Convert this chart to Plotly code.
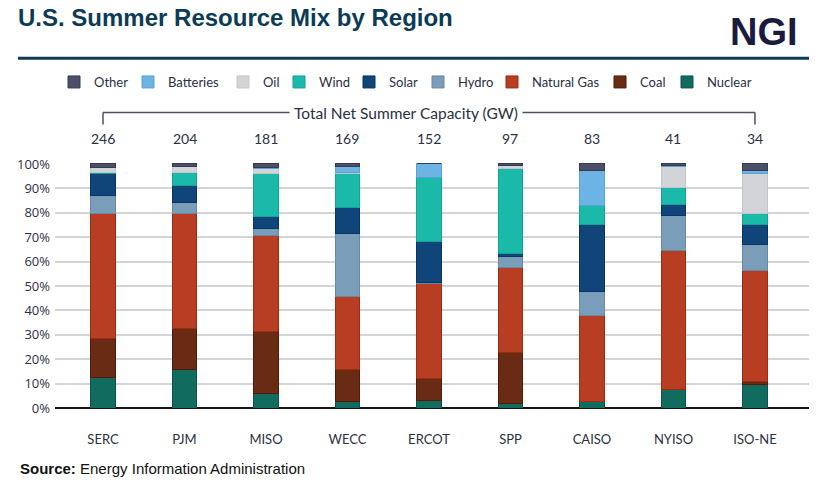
import plotly.graph_objects as go

regions = ["SERC", "PJM", "MISO", "WECC", "ERCOT", "SPP", "CAISO", "NYISO", "ISO-NE"]
capacity_gw = [246, 204, 181, 169, 152, 97, 83, 41, 34]

nuclear = [12.6, 15.9, 6.0, 2.7, 3.0, 1.8, 2.5, 7.7, 9.8]
coal = [15.8, 16.8, 25.2, 13.1, 9.0, 20.9, 0.0, 0.0, 1.2]
natural_gas = [51.3, 47.2, 39.4, 29.9, 39.2, 35.0, 35.3, 57.0, 45.3]
hydro = [7.2, 4.2, 2.8, 25.7, 0.4, 4.5, 10.0, 14.3, 10.5]
solar = [9.4, 7.0, 4.9, 10.6, 16.8, 1.1, 27.2, 4.2, 8.2]
wind = [0.3, 5.5, 17.6, 14.3, 26.2, 34.8, 7.8, 7.2, 4.8]
oil = [1.8, 2.2, 2.4, 0.2, 0.0, 1.2, 0.0, 8.6, 16.1]
batteries = [0.2, 0.2, 0.1, 2.3, 5.4, 0.1, 14.6, 0.5, 1.4]
other = [1.4, 1.0, 1.6, 1.2, 0.0, 0.6, 2.6, 0.5, 2.7]

y_tick_values = [0, 10, 20, 30, 40, 50, 60, 70, 80, 90, 100]
y_tick_labels = ["0%", "10%", "20%", "30%", "40%", "50%", "60%", "70%", "80%", "90%", "100%"]

# name, values, fill, edge, legend swatch left edge (px)
series = [
    ("Nuclear", nuclear, "#116b5f", "#0a5549", 681),
    ("Coal", coal, "#692b14", "#4e1c08", 614),
    ("Natural Gas", natural_gas, "#b73e23", "#a02c10", 506),
    ("Hydro", hydro, "#7a9dba", "#6689a8", 432),
    ("Solar", solar, "#10457a", "#0a3462", 363),
    ("Wind", wind, "#1bb9a9", "#12a493", 293),
    ("Oil", oil, "#d3d4d8", "#c4c5ca", 237),
    ("Batteries", batteries, "#6cb4e4", "#58a2d5", 142),
    ("Other", other, "#4b5068", "#363b52", 68),
]

TXT = "#2b3044"

L, R, T, B = 55, 19, 163, 80
W, H = 828, 488
pw = W - L - R
ph = H - T - B


def px_x(px):
    return (px - L) / pw


def px_y(py):
    return (H - B - py) / ph


fig = go.Figure()
legend_layouts = {}
for i, (name, vals, col, edge, lx) in enumerate(series):
    key = "legend" if i == 0 else f"legend{i + 1}"
    fig.add_trace(go.Bar(
        x=regions, y=vals, name=name, width=0.3, legend=key,
        marker=dict(color=col, line=dict(color=edge, width=1)),
    ))
    legend_layouts[key] = dict(
        orientation="h", x=px_x(lx - 14), xanchor="left",
        y=px_y(82), yanchor="middle",
        font=dict(family="Lato", size=13, color=TXT),
        itemclick=False, itemdoubleclick=False,
        bgcolor="rgba(0,0,0,0)",
    )

annotations = []
for reg, cap in zip(regions, capacity_gw):
    annotations.append(dict(
        x=reg, xref="x", y=px_y(138), yref="paper", text=str(cap),
        showarrow=False, yanchor="middle", xanchor="center",
        font=dict(family="Lato", size=14, color=TXT),
    ))

annotations.append(dict(
    x=px_x(405.5), xref="paper", y=px_y(112.5), yref="paper",
    text="Total Net Summer Capacity (GW)", showarrow=False,
    xanchor="center", yanchor="middle", bgcolor="white", borderpad=4,
    font=dict(family="Lato", size=15.5, color=TXT),
))
annotations.append(dict(
    x=px_x(800), xref="paper", y=px_y(31.5), yref="paper",
    text="<b>NGI</b>", showarrow=False, xanchor="right", yanchor="middle",
    font=dict(family="Liberation Sans", size=38, color="#1b1b40"),
))
annotations.append(dict(
    x=px_x(18), xref="paper", y=px_y(469), yref="paper",
    text="<b>Source:</b> Energy Information Administration", showarrow=False,
    xanchor="left", yanchor="middle",
    font=dict(family="Liberation Sans", size=15, color="#111111"),
))

y_line = px_y(112.5)
y_bot = px_y(124.5)
bracket = dict(color="#4a4f63", width=1.5)
shapes = [
    dict(type="line", xref="paper", yref="paper", x0=px_x(18), x1=px_x(809),
         y0=px_y(58.3), y1=px_y(58.3), line=dict(color="#0d3d54", width=3)),
    dict(type="line", xref="x", yref="paper", x0=regions[0], x1=regions[-1],
         y0=y_line, y1=y_line, line=bracket),
    dict(type="line", xref="x", yref="paper", x0=regions[0], x1=regions[0],
         y0=y_line, y1=y_bot, line=bracket),
    dict(type="line", xref="x", yref="paper", x0=regions[-1], x1=regions[-1],
         y0=y_line, y1=y_bot, line=bracket),
]

fig.update_layout(
    width=W, height=H,
    margin=dict(l=L, r=R, t=T, b=B, pad=0),
    paper_bgcolor="white", plot_bgcolor="white",
    barmode="stack",
    title=dict(
        text="<b>U.S. Summer Resource Mix by Region</b>",
        x=18 / W, xanchor="left", xref="container",
        y=1 - 18 / H, yanchor="middle", yref="container",
        font=dict(family="Liberation Sans", size=24, color="#0c3c55"),
    ),
    xaxis=dict(
        type="category", range=[-0.589, 8.663],
        showgrid=False, showline=False, zeroline=False,
        ticks="", ticklabelstandoff=22,
        tickfont=dict(family="Lato", size=13, color=TXT),
        fixedrange=True,
    ),
    yaxis=dict(
        range=[0, 100.4], tickmode="array",
        tickvals=y_tick_values, ticktext=y_tick_labels,
        showgrid=True, gridcolor="#d3d4d8", gridwidth=2,
        zeroline=True, zerolinecolor="#151515", zerolinewidth=2,
        ticks="", ticklabelstandoff=4,
        tickfont=dict(family="Open Sans", size=13, color=TXT),
        fixedrange=True,
    ),
    annotations=annotations,
    shapes=shapes,
    showlegend=True,
    **legend_layouts,
)

fig.write_html("out.html")
